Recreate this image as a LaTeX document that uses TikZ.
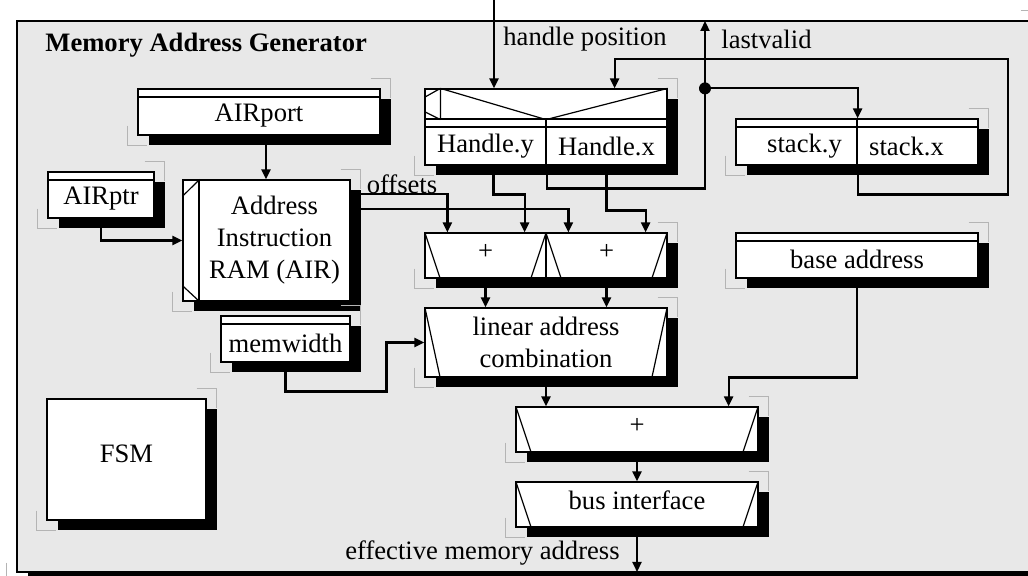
\documentclass[tikz,border=0pt]{standalone}
\usepackage{fontspec}
\setmainfont{Liberation Serif}
\usetikzlibrary{arrows.meta,shadows}
\definecolor{panelgray}{HTML}{E8E8E8}
\definecolor{cropgray}{HTML}{B4B4B4}
\tikzset{
  block/.style={rectangle,draw,line width=0.6pt,fill=white,inner sep=0pt,align=center,
    general shadow={fill=black,shadow xshift=5.5pt,shadow yshift=-5pt}},
  reg/.style={block,path picture={\draw[line width=0.6pt] ([yshift=-4pt]path picture bounding box.north west) -- ([yshift=-4pt]path picture bounding box.north east);}},
  trap/.style={block,path picture={\draw[line width=0.6pt] (path picture bounding box.north west) -- ([xshift=7.5pt]path picture bounding box.south west) (path picture bounding box.north east) -- ([xshift=-7.5pt]path picture bounding box.south east);}},
  wire/.style={line width=1.1pt},
  feed/.style={wire,-{Triangle[length=5pt,width=4.5pt]}},
  cropmark/.style={draw=cropgray,line width=0.4pt},
  caption/.style={inner sep=0pt}
}
% shift text inside a box without changing its size
\newcommand{\lowtxt}[1]{\raisebox{-2pt}[\height][\depth]{#1}}
\newcommand{\hightxt}[1]{\raisebox{2pt}[\height][\depth]{#1}}
% gray corner marks: #1 top right anchor, #2 bottom left anchor
\newcommand{\crops}[2]{%
  \draw[cropmark] ([shift={(-5pt,5pt)}]#1) -- ([shift={(5pt,5pt)}]#1) -- ([shift={(5pt,-5pt)}]#1);
  \draw[cropmark] ([shift={(-5pt,5pt)}]#2) -- ([shift={(-5pt,-5pt)}]#2) -- ([shift={(5pt,-5pt)}]#2);}

\begin{document}
\begin{tikzpicture}[x=0.5pt,y=-0.5pt,font=\fontsize{13.3}{16}\selectfont]
  \useasboundingbox (0,0) rectangle (1028,576);
  % panel
  \node[block,fill=panelgray,minimum width=506.5pt,minimum height=275.5pt] (mag) at (523.5,296.5) {};
  \node[caption,anchor=west,font=\fontsize{13.3}{16}\selectfont\bfseries] (title) at (45,45) {Memory Address Generator};

  % instruction side
  \node[reg,minimum width=121pt,minimum height=23pt] (port) at (259,112) {\lowtxt{AIRport}};
  \node[reg,minimum width=53pt,minimum height=23pt] (ptr) at (101,195) {\lowtxt{AIRptr}};
  \node[block,minimum width=8pt,minimum height=60.5pt] (airin) at (191,240.5) {};
  \node[block,minimum width=75.5pt,minimum height=60.5pt] (air) at (274.5,240.5) {Address\\Instruction\\RAM (AIR)};
  \node[reg,minimum width=64.5pt,minimum height=23pt] (memw) at (285.5,339) {\lowtxt{memwidth}};
  \node[block,minimum width=79.5pt,minimum height=60.5pt] (fsm) at (126.5,459.5) {\raisebox{3pt}[\height][\depth]{FSM}};

  % handle and stack
  \node[block,minimum width=121pt,minimum height=15pt] (hmux) at (546,104) {};
  \node[reg,minimum width=60.5pt,minimum height=23pt] (hy) at (485.5,142) {\lowtxt{Handle.y}};
  \node[reg,minimum width=60.5pt,minimum height=23pt] (hx) at (606.5,142) {\lowtxt{Handle.x}};
  \node[reg,minimum width=60.5pt,minimum height=23pt] (sy) at (796.5,142) {\lowtxt{\hspace*{8pt}stack.y}};
  \node[reg,minimum width=60.5pt,minimum height=23pt] (sx) at (917.5,142) {\lowtxt{stack.x\hspace*{11pt}}};

  % adders
  \node[trap,minimum width=60.5pt,minimum height=22.5pt] (addl) at (485.5,255.5) {\hightxt{+}};
  \node[trap,minimum width=60.5pt,minimum height=22.5pt] (addr) at (606.5,255.5) {\hightxt{+}};
  \node[reg,minimum width=121pt,minimum height=22.5pt] (base) at (857,255.5) {\lowtxt{base address}};
  \node[trap,minimum width=121pt,minimum height=34.5pt] (lin) at (546,342.5) {linear address\\combination};
  \node[trap,minimum width=121pt,minimum height=22.5pt] (sum) at (637,429.5) {\hightxt{+}};
  \node[trap,minimum width=121pt,minimum height=22.5pt] (busif) at (637,504.5) {\hightxt{bus interface}};

  % inner details
  \draw[line width=0.6pt] ([xshift=8pt]hmux.north west) -- ([xshift=8pt]hmux.south west)
    ([xshift=8pt]hmux.north west) -- (hmux.south) -- (hmux.north east)
    ([xshift=8pt]hmux.north west) -- ([yshift=-4.5pt]hmux.north west)
    ([yshift=4pt]hmux.south west) -- ([xshift=8pt]hmux.south west);
  \draw[line width=0.6pt] (airin.north east) -- ([yshift=-8.5pt]airin.north west)
    ([yshift=8pt]airin.south west) -- (airin.south east);

  \crops{mag.north east}{mag.south west}
  \crops{port.north east}{port.south west}
  \crops{ptr.north east}{ptr.south west}
  \crops{air.north east}{airin.south west}
  \crops{memw.north east}{memw.south west}
  \crops{fsm.north east}{fsm.south west}
  \crops{hmux.north east}{hy.south west}
  \crops{sx.north east}{sy.south west}
  \crops{addr.north east}{addl.south west}
  \crops{base.north east}{base.south west}
  \crops{lin.north east}{lin.south west}
  \crops{sum.north east}{sum.south west}
  \crops{busif.north east}{busif.south west}

  % signals
  \coordinate (hp) at (494,0);
  \coordinate (lv) at (705,21);
  \coordinate (ring) at (1008,59);
  \coordinate (ema) at (637,572);
  \coordinate (jn) at (lv |- hmux.north);

  \draw[feed] ([xshift=3.5pt]port.south) -- ([xshift=3.5pt]port.south |- air.north);
  \draw[feed] (ptr.south) |- (airin.west);
  \draw[feed] ([yshift=-7.5pt]air.north east) -| ([xshift=11.5pt]addl.north west);
  \draw[feed] ([yshift=-15pt]air.north east) -| ([xshift=11.5pt]addr.north west);
  \draw[feed] (hp) -- (hp |- hmux.north);
  \draw[feed] ([xshift=4pt]hy.south) -- ++(0,29) -| ([xshift=-11pt]addl.north east);
  \draw[feed] (hx.south) -- ++(0,45) -| ([xshift=-11pt]addr.north east);
  \draw[feed] (hy.south east) -- ++(0,23) -| (lv);
  \fill (jn) circle (3pt);
  \draw[feed] (jn) -| (sy.north east);
  \draw[feed] (sy.south east) -- ++(0,29) -| (ring) -| ([xshift=-26.5pt]hmux.north east);
  \draw[feed] (addl.south) -- (addl.south |- lin.north);
  \draw[feed] (addr.south) -- (addr.south |- lin.north);
  \draw[feed] (memw.south) -- ++(0,29) -| ([xshift=-19pt]lin.west) -- (lin.west);
  \draw[feed] (lin.south) -- (lin.south |- sum.north);
  \draw[feed] (base.south) -- ++(0,99) -| ([xshift=-15pt]sum.north east);
  \draw[feed] (sum.south) -- (busif.north);
  \draw[feed] (busif.south) -- (ema);

  % labels
  \node[caption] (offs) at (402,184) {offsets};
  \node[caption,anchor=west] (hpos) at (503,39) {handle position};
  \node[caption,anchor=west] (lval) at (721,39) {lastvalid};
  \node[caption,anchor=east] (effad) at (620,553) {effective memory address};
\end{tikzpicture}
\end{document}
